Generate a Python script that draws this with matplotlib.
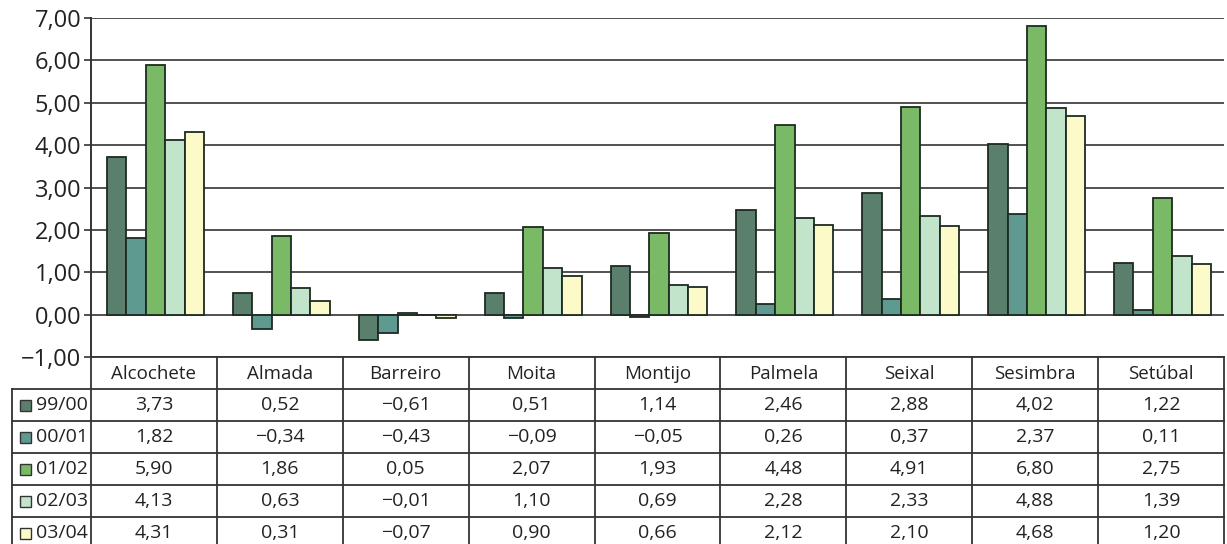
import matplotlib
matplotlib.use("Agg")
import matplotlib.pyplot as plt
from matplotlib.patches import Rectangle
import numpy as np

plt.rcParams['font.family'] = ['Open Sans', 'DejaVu Sans']

categories = ["Alcochete", "Almada", "Barreiro", "Moita", "Montijo",
              "Palmela", "Seixal", "Sesimbra", "Setúbal"]
series_names = ["99/00", "00/01", "01/02", "02/03", "03/04"]
s_99_00 = [3.73, 0.52, -0.61, 0.51, 1.14, 2.46, 2.88, 4.02, 1.22]
s_00_01 = [1.82, -0.34, -0.43, -0.09, -0.05, 0.26, 0.37, 2.37, 0.11]
s_01_02 = [5.90, 1.86, 0.05, 2.07, 1.93, 4.48, 4.91, 6.80, 2.75]
s_02_03 = [4.13, 0.63, -0.01, 1.10, 0.69, 2.28, 2.33, 4.88, 1.39]
s_03_04 = [4.31, 0.31, -0.07, 0.90, 0.66, 2.12, 2.10, 4.68, 1.20]
series = [s_99_00, s_00_01, s_01_02, s_02_03, s_03_04]
colors = ["#5b7f6d", "#5e9a8f", "#7aba66", "#c2e4ca", "#fdfac9"]
yticks = [-1, 0, 1, 2, 3, 4, 5, 6, 7]

W, H = 1227, 544
fig = plt.figure(figsize=(W / 100, H / 100), dpi=100)

def fx(px):
    return px / W

def fy(py):
    return 1 - py / H

ax_left, ax_right = 91, 1224
ax_top, ax_bot = 18, 357
ax = fig.add_axes([fx(ax_left), fy(ax_bot), fx(ax_right) - fx(ax_left), fy(ax_top) - fy(ax_bot)])

n = len(categories)
x = np.arange(n)
bw = 0.154
for i, (vals, c) in enumerate(zip(series, colors)):
    ax.bar(x + (i - 2) * bw + 0.012, vals, width=bw, color=c, edgecolor="#1e2a22",
           linewidth=1.3, zorder=3)

ax.set_xlim(-0.5, n - 0.5)
ax.set_ylim(-1, 7)
ax.set_yticks(yticks)
ax.set_yticklabels([f"{v:.2f}".replace('.', ',').replace('-', '\u2212') for v in yticks],
                   fontsize=17, color="#222222")
for v in yticks:
    ax.axhline(v, color="#333333", linewidth=1.2, zorder=2)
ax.set_xticks([])
for s in ["top", "right", "bottom"]:
    ax.spines[s].set_visible(False)
ax.spines["left"].set_color("#333333")
ax.spines["left"].set_linewidth(1.4)
ax.tick_params(axis="y", length=5, width=1.2, color="#333333", pad=2)

# ---- data table below the plot ----
col_w = (ax_right - ax_left) / n
row_top = 357
header_h = 32
row_h = 32
lab_left = 12
line_kw = dict(color="#333333", linewidth=1.3, transform=fig.transFigure, clip_on=False)

def hline(py, x0, x1):
    fig.add_artist(plt.Line2D([fx(x0), fx(x1)], [fy(py), fy(py)], **line_kw))

def vline(px, y0, y1):
    fig.add_artist(plt.Line2D([fx(px), fx(px)], [fy(y0), fy(y1)], **line_kw))

# header row
hline(row_top, ax_left, ax_right)
hdr_bot = row_top + header_h
for j, cat in enumerate(categories):
    cx = ax_left + (j + 0.5) * col_w
    fig.text(fx(cx), fy(row_top + header_h / 2 + 1), cat, ha="center", va="center",
             fontsize=13.5, color="#222222")
for j in range(n + 1):
    vline(ax_left + j * col_w, row_top, H + 5)
vline(lab_left, hdr_bot, H + 5)

for r, (name, vals, c) in enumerate(zip(series_names, series, colors)):
    ytop = hdr_bot + r * row_h
    hline(ytop, lab_left, ax_right)
    cy = ytop + row_h / 2
    # legend marker
    fig.add_artist(Rectangle((fx(20), fy(cy + 6)), fx(11), fy(0) - fy(11),
                             facecolor=c, edgecolor="#333333", linewidth=1.0,
                             transform=fig.transFigure))
    fig.text(fx(36), fy(cy), name, ha="left", va="center", fontsize=14, color="#222222")
    for j, v in enumerate(vals):
        cx = ax_left + (j + 0.5) * col_w
        fig.text(fx(cx), fy(cy), f"{v:.2f}".replace('.', ',').replace('-', '\u2212'),
                 ha="center", va="center", fontsize=14, color="#222222")

fig.savefig("out.png", dpi=100)
